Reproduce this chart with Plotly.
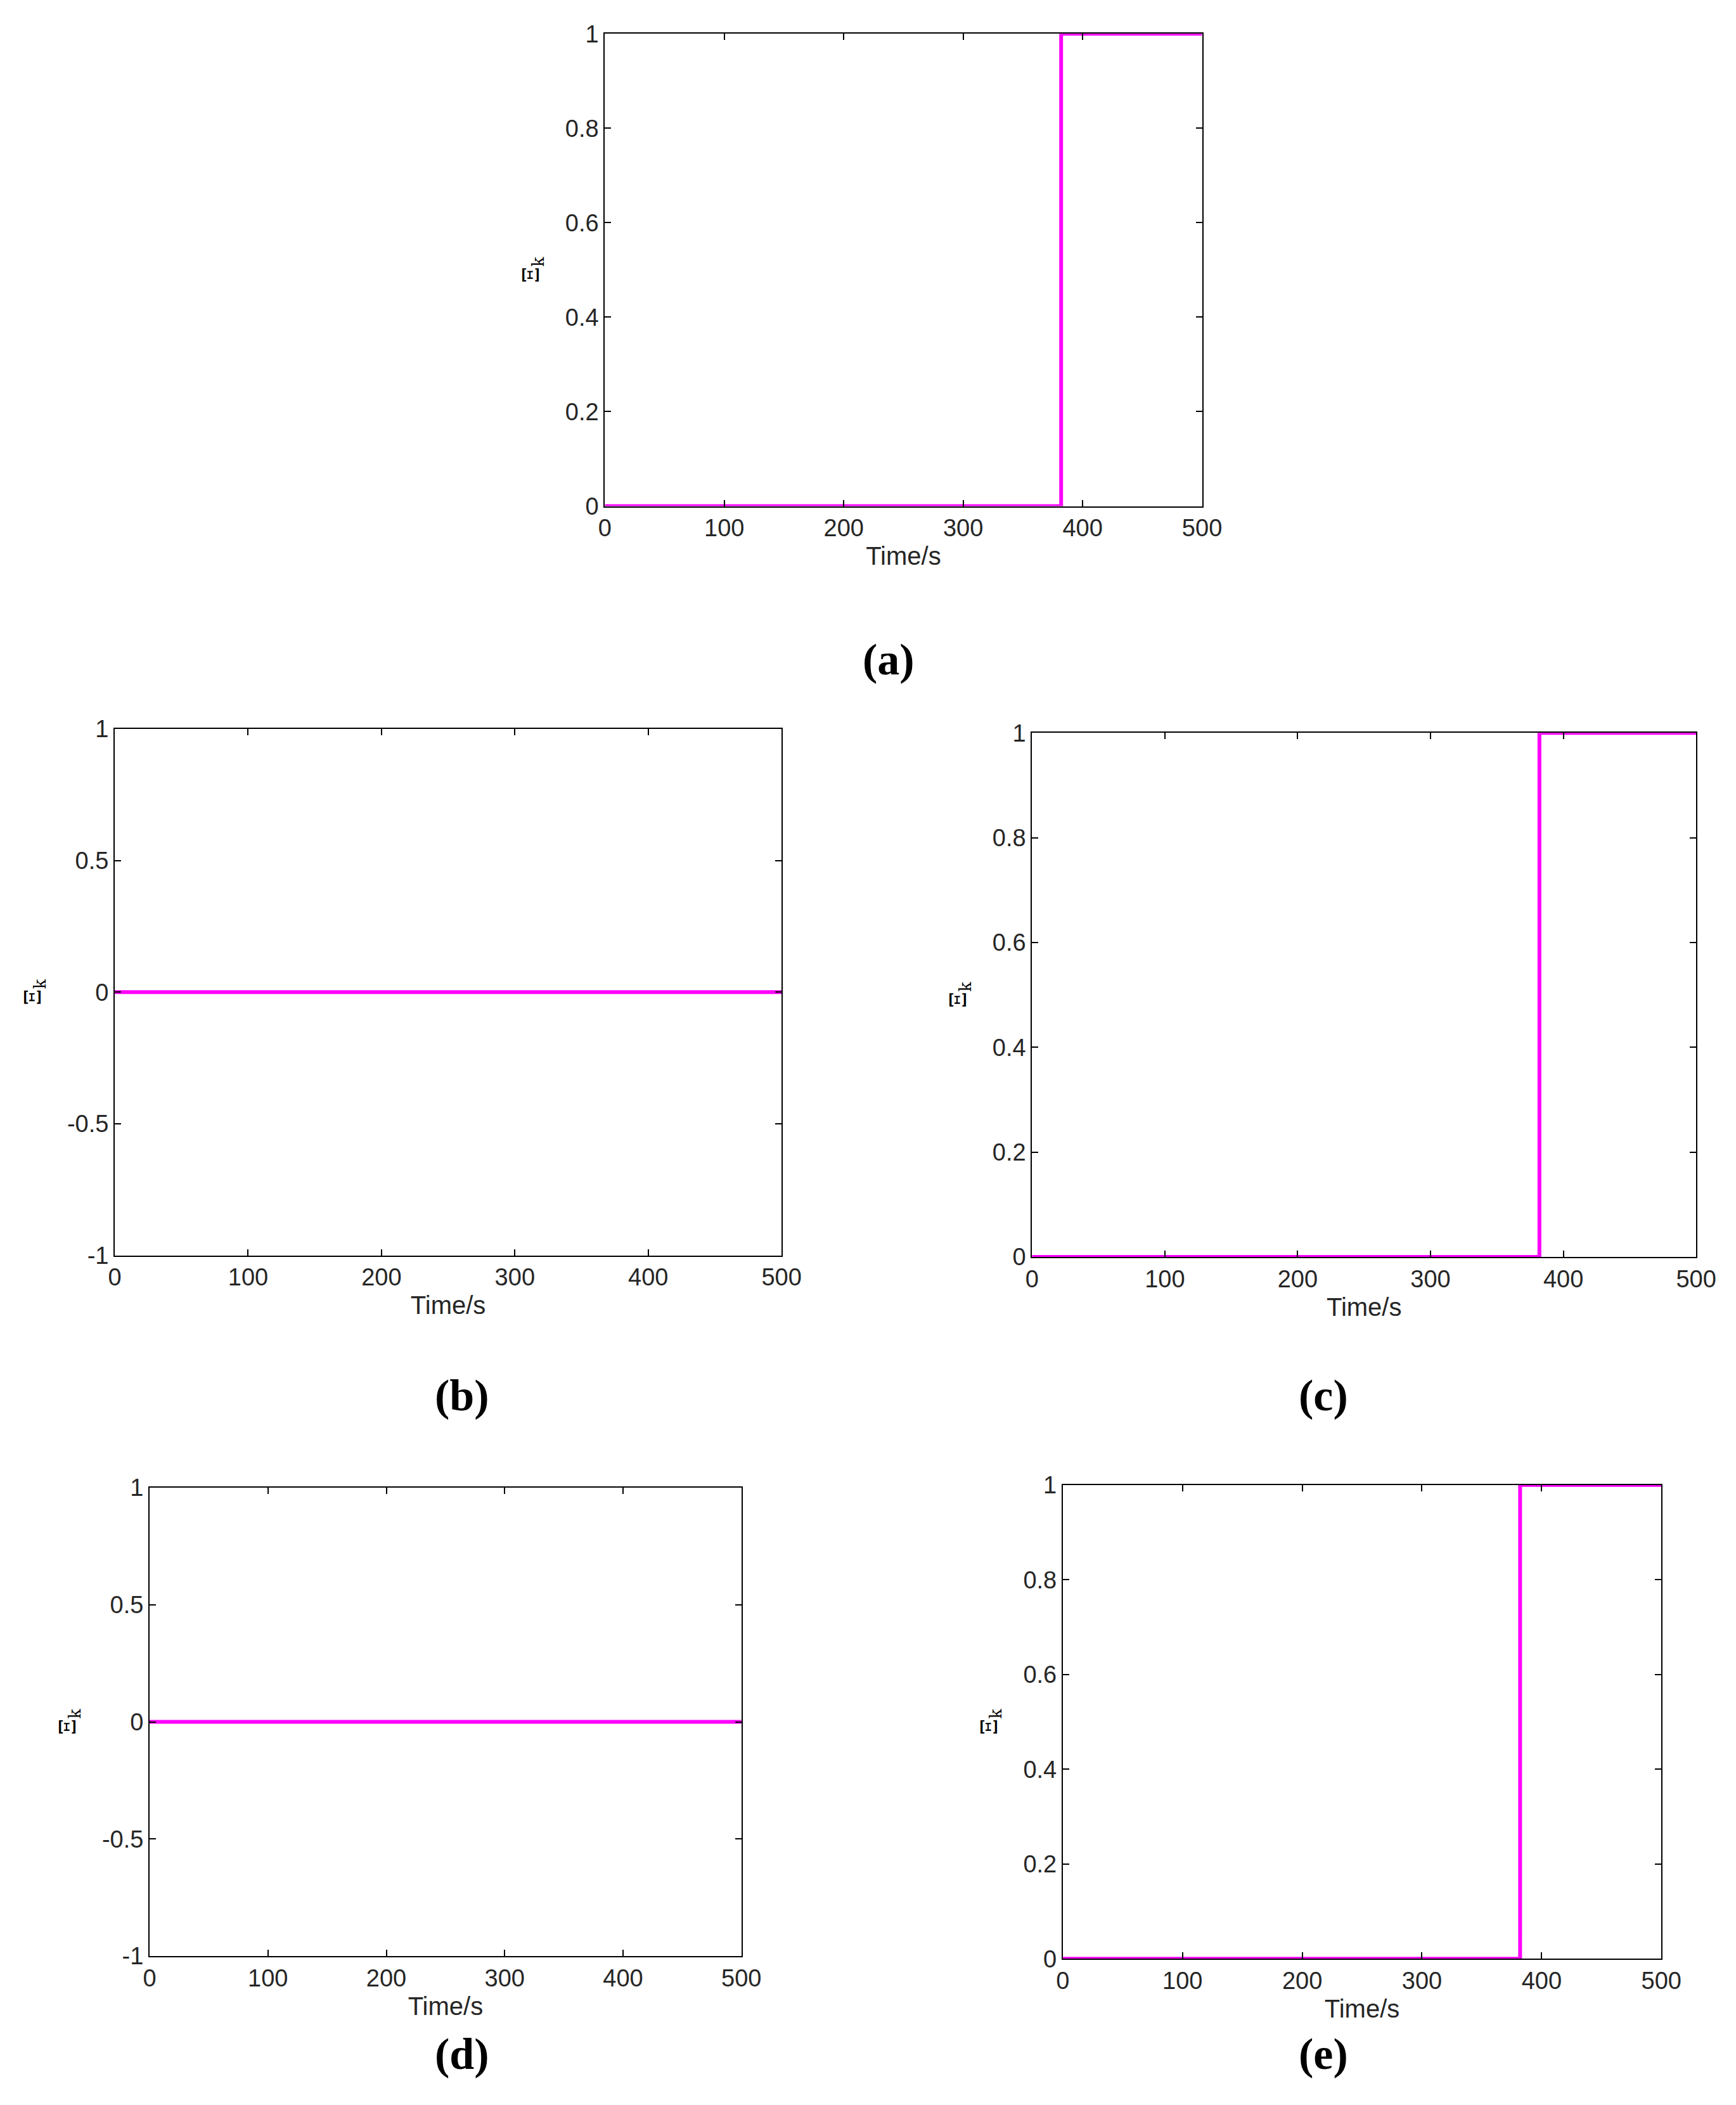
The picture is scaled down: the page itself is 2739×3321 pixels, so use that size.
import plotly.graph_objects as go

# switching signal Xi_k for each subplot
time_s = [0, 382, 382, 500]
xi_a = [0, 0, 1, 1]
xi_b = [0, 0, 0, 0]
xi_c = [0, 0, 1, 1]
xi_d = [0, 0, 0, 0]
xi_e = [0, 0, 1, 1]
panel_labels = ["(a)", "(b)", "(c)", "(d)", "(e)"]
ticks_unit = [0, 0.2, 0.4, 0.6, 0.8, 1]
ticks_sym = [-1, -0.5, 0, 0.5, 1]
ticks_sym_text = ["-1", "-0.5", "0", "0.5", "1"]

W, H = 2739, 3321
MAGENTA = "#ff00ff"
TICK_FONT = dict(family="Arial, Liberation Sans", size=38, color="#262626")


def fx(d):
    return ((d - 8.3) / 0.9816) / 1300


def fy(d):
    return 1 - ((d - 12.7) / 0.9714) / 1576


panels = [
    # x range (display px), y range (display px), data, y range, ticks, label pos
    ((451, 897), (24, 372), xi_a, [0, 1], ticks_unit, None, (663, 466)),
    ((85, 583), (536, 924), xi_b, [-1, 1], ticks_sym, ticks_sym_text, (323, 1027)),
    ((770, 1266), (539, 925), xi_c, [0, 1], ticks_unit, None, (1007, 1027)),
    ((111, 553), (1095, 1440), xi_d, [-1, 1], ticks_sym, ticks_sym_text, (323, 1531)),
    ((793, 1240), (1093, 1442), xi_e, [0, 1], ticks_unit, None, (1007, 1531)),
]

fig = go.Figure()
layout = dict(width=W, height=H, margin=dict(l=0, r=0, t=0, b=0),
              plot_bgcolor="white", paper_bgcolor="white", showlegend=False,
              annotations=[])

for i, (xp, yp, ys, yr, tv, tt, lab) in enumerate(panels):
    n = "" if i == 0 else str(i + 1)
    fig.add_trace(go.Scatter(x=time_s, y=ys, mode="lines",
                             line=dict(color=MAGENTA, width=6),
                             xaxis="x" + n, yaxis="y" + n))
    axcommon = dict(showline=True, linecolor="black", linewidth=2, mirror="ticks",
                    ticks="inside", ticklen=10, tickwidth=2, tickcolor="black",
                    showgrid=False, zeroline=False, tickfont=TICK_FONT)
    layout["xaxis" + n] = dict(domain=[fx(xp[0]), fx(xp[1])], anchor="y" + n,
                               range=[0, 500], dtick=100,
                               title=dict(text="Time/s", font=dict(family="Arial, Liberation Sans", size=40, color="#262626"), standoff=10),
                               **axcommon)
    yax = dict(domain=[fy(yp[1]), fy(yp[0])], anchor="x" + n, range=yr, tickvals=tv,
               title=dict(text="Ξ<sub>k</sub>", font=dict(family="DejaVu Serif", size=36, color="black"), standoff=30),
               **axcommon)
    if tt:
        yax["ticktext"] = tt
    layout["yaxis" + n] = yax
    layout["annotations"].append(dict(text="<b>" + panel_labels[i] + "</b>", x=fx(lab[0]), y=fy(lab[1]),
                                      xref="paper", yref="paper", showarrow=False,
                                      font=dict(family="Liberation Serif", size=70, color="black")))

fig.update_layout(**layout)
fig.write_html("out.html")
